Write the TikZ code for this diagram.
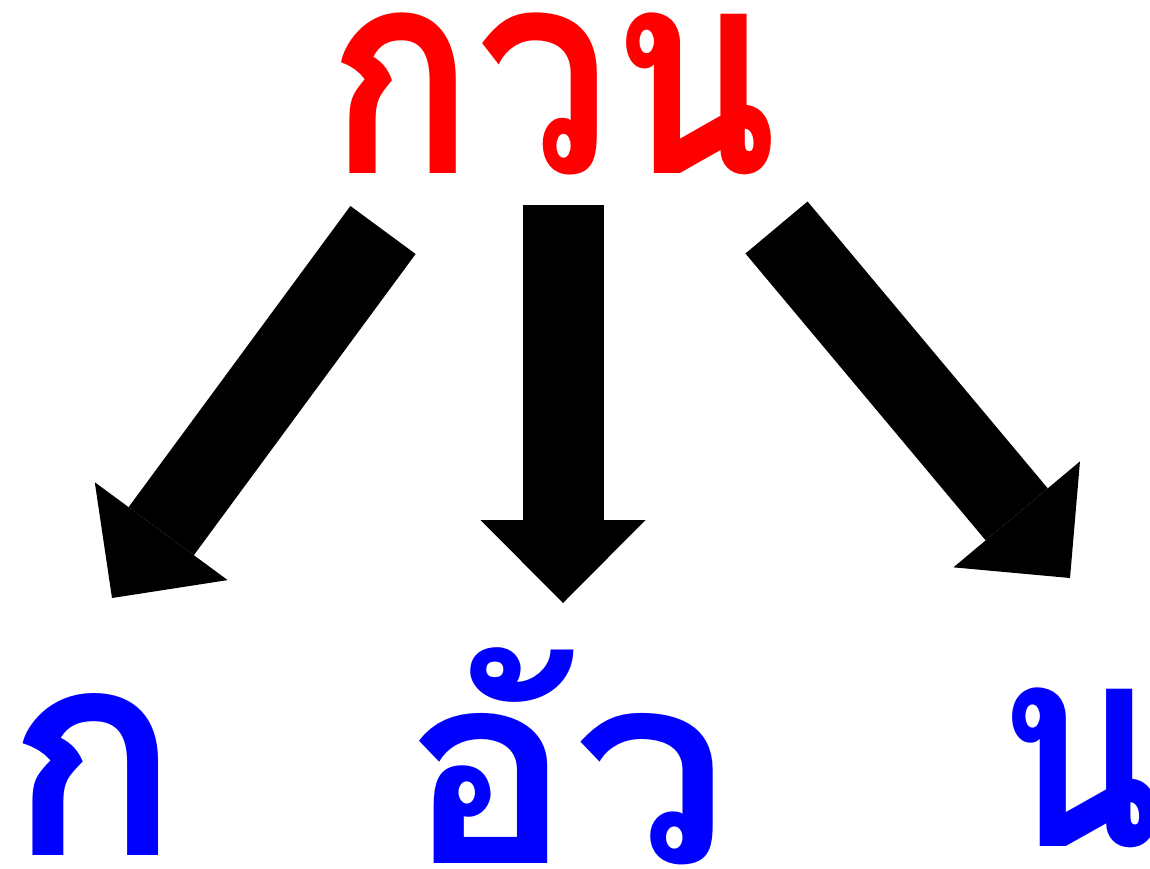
\documentclass[tikz,border=0pt]{standalone}
\usepackage{fontspec}
\usepackage{graphicx}
\newfontfamily\thaifont[Script=Thai]{Loma}
\usetikzlibrary{arrows.meta}
\definecolor{topred}{RGB}{255,0,0}
\definecolor{botblue}{RGB}{0,0,255}
\tikzset{
  word/.style={inner sep=0pt,outer sep=0pt,anchor=south west},
  bigarrow/.style={line width=81pt,-{Triangle[length=83pt,width=165pt,line width=0pt]}},
}
\begin{document}
\begin{tikzpicture}[x=1pt,y=-1pt]
\useasboundingbox (0,0) rectangle (1150,868);
\node[word,text=topred] (top) at (327,175) {\resizebox*{451pt}{162pt}{\thaifont\bfseries กวน}};
\node[word,text=botblue] (k) at (6,855) {\resizebox*{174pt}{162pt}{\thaifont\bfseries ก}};
\node[word,text=botblue] (ua) at (403,865) {\resizebox*{326pt}{217pt}{\thaifont\bfseries อัว}};
\node[word,text=botblue] (n) at (997,848) {\resizebox*{166pt}{160pt}{\thaifont\bfseries น}};
\coordinate (s1) at (383,230);
\coordinate (e1) at (112,598);
\coordinate (s2) at (563,205);
\coordinate (e2) at (563,603);
\coordinate (s3) at (776.5,227.5);
\coordinate (e3) at (1070,578);
\draw[bigarrow] (s1) -- (e1);
\draw[bigarrow] (s2) -- (e2);
\draw[bigarrow] (s3) -- (e3);
\end{tikzpicture}
\end{document}
